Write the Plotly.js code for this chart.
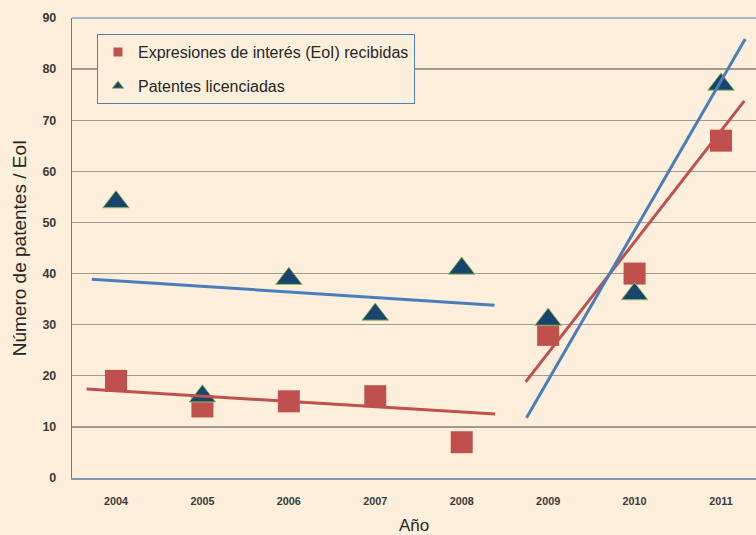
<!DOCTYPE html>
<html>
<head>
<meta charset="utf-8">
<script src="https://cdn.plot.ly/plotly-3.0.1.min.js"></script>
<style>html,body{margin:0;padding:0;background:#fdefdc;}#chart{width:756px;height:535px;}</style>
</head>
<body>
<div id="chart"></div>
<script>
// Data
var years = [2004, 2005, 2006, 2007, 2008, 2009, 2010, 2011];
var yearLabels = ['2004', '2005', '2006', '2007', '2008', '2009', '2010', '2011'];
var eoi = [19, 14, 15, 16, 7, 28, 40, 66];
var patentes = [54, 16, 39, 32, 41, 31, 36, 77];

// Trend line endpoints
var trendEoiA_x = [2003.66, 2008.385];
var trendEoiA_y = [17.4, 12.5];
var trendPatA_x = [2003.72, 2008.38];
var trendPatA_y = [38.9, 33.8];
var trendEoiB_x = [2008.74, 2011.27];
var trendEoiB_y = [18.8, 73.8];
var trendPatB_x = [2008.75, 2011.28];
var trendPatB_y = [11.8, 85.9];

var nameEoi = 'Expresiones de interés (EoI) recibidas';
var namePat = 'Patentes licenciadas';

var red = '#c0504d', blue = '#4a7ebb', navy = '#17456e', green = '#9bbb59';

var traces = [
  {x: years, y: eoi, type: 'scatter', mode: 'markers', showlegend: false,
   marker: {symbol: 'square', size: 22, color: red}},
  {x: years, y: patentes, type: 'scatter', mode: 'markers', showlegend: false,
   marker: {symbol: 'triangle-up', size: 23, color: navy, line: {color: green, width: 1}}},
  {x: trendEoiA_x, y: trendEoiA_y, type: 'scatter', mode: 'lines', showlegend: false, line: {color: red, width: 3}},
  {x: trendPatA_x, y: trendPatA_y, type: 'scatter', mode: 'lines', showlegend: false, line: {color: blue, width: 3}},
  {x: trendEoiB_x, y: trendEoiB_y, type: 'scatter', mode: 'lines', showlegend: false, line: {color: red, width: 3}},
  {x: trendPatB_x, y: trendPatB_y, type: 'scatter', mode: 'lines', showlegend: false, line: {color: blue, width: 3}},
  // legend-only entries with small symbols
  {x: [null], y: [null], type: 'scatter', mode: 'markers', name: nameEoi, legendgroup: 'a',
   marker: {symbol: 'square', size: 9, color: red}},
  {x: [null], y: [null], type: 'scatter', mode: 'markers', name: namePat, legendgroup: 'b',
   marker: {symbol: 'triangle-up', size: 10, color: navy, line: {color: green, width: 1}}}
];

var layout = {
  width: 756, height: 535,
  margin: {l: 72, r: 0, t: 18, b: 57},
  paper_bgcolor: '#fdefdc',
  plot_bgcolor: '#fdefdc',
  font: {family: 'Liberation Sans, Arial, sans-serif', color: '#262626'},
  xaxis: {
    range: [2003.491, 2011.405],
    tickvals: years, ticktext: yearLabels,
    showgrid: false, zeroline: false,
    showline: true, linecolor: '#8497b0', linewidth: 1.5,
    ticks: '', ticklabelstandoff: 13,
    tickfont: {family: 'Liberation Sans, Arial, sans-serif', size: 10.8, color: '#3a3a3a', weight: 'bold'},
    title: {text: 'Año', font: {size: 17, color: '#262626'}, standoff: 12}
  },
  yaxis: {
    range: [0, 90],
    tickvals: [0, 10, 20, 30, 40, 50, 60, 70, 80, 90],
    showgrid: true, gridcolor: '#a09a90', gridwidth: 1.3,
    zeroline: false,
    showline: true, linecolor: '#4f81bd', linewidth: 1.2,
    ticks: '', ticklabelstandoff: 12,
    tickfont: {family: 'Liberation Sans, Arial, sans-serif', size: 12.5, color: '#3a3a3a', weight: 'bold'},
    title: {text: 'Número de patentes / EoI', font: {size: 19, color: '#262626'}, standoff: 10}
  },
  shapes: [
    {type: 'line', xref: 'paper', yref: 'paper', x0: 0, x1: 1, y0: 1, y1: 1,
     line: {color: '#4f81bd', width: 1.2}}
  ],
  showlegend: true,
  legend: {
    x: 0.0365, y: 0.965, xanchor: 'left', yanchor: 'top',
    bgcolor: '#fdefdc', bordercolor: '#4f81bd', borderwidth: 1,
    font: {size: 16, color: '#262626'},
    traceorder: 'grouped', tracegroupgap: 10,
    itemsizing: 'trace'
  }
};

Plotly.newPlot('chart', traces, layout, {displayModeBar: false, staticPlot: true});
</script>
</body>
</html>
